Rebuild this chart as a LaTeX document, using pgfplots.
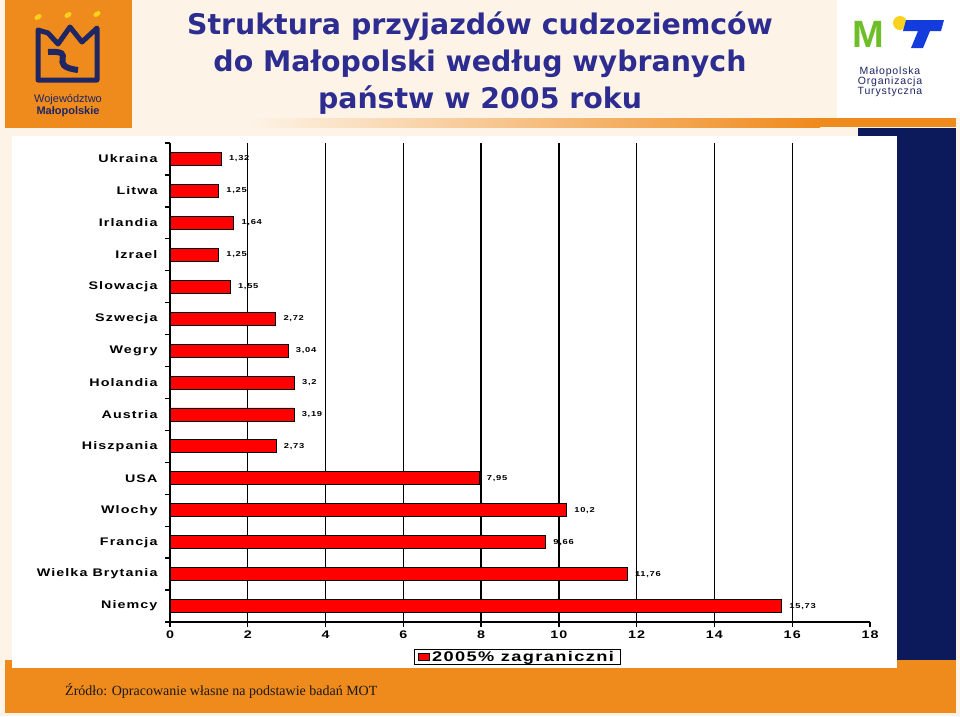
\documentclass[border=0pt]{standalone}
\usepackage{pgfplots}
\pgfplotsset{compat=1.18}
\usepackage{pgfplotstable}
\usepackage{fontspec}
\setmainfont{Liberation Sans}
\newfontfamily\spacedfont[LetterSpace=10, FakeStretch=1.3]{Liberation Sans}
\newfontfamily\motfont[LetterSpace=8]{Liberation Sans}
\newfontfamily\titlefont{DejaVu Sans}
\newfontfamily\srcfont{Liberation Serif}
\definecolor{cream}{RGB}{253,243,230}
\definecolor{morange}{RGB}{239,138,28}
\definecolor{navy}{RGB}{12,26,92}
\definecolor{titleblue}{RGB}{45,45,145}
\definecolor{logonavy}{RGB}{30,38,100}
\definecolor{motgreen}{RGB}{110,190,40}
\definecolor{motyellow}{RGB}{250,210,30}
\definecolor{motblue}{RGB}{20,60,220}

\pgfplotstableread{
idx val lab
15 1.32 1,32
14 1.25 1,25
13 1.64 1,64
12 1.25 1,25
11 1.55 1,55
10 2.72 2,72
9 3.04 3,04
8 3.2 3,2
7 3.19 3,19
6 2.73 2,73
5 7.95 7,95
4 10.2 10,2
3 9.66 9,66
2 11.76 11,76
1 15.73 15,73
}\datatable

\begin{document}
\begin{tikzpicture}
\useasboundingbox (0pt,0pt) rectangle (960pt,-716pt);
\begin{scope}[x=1pt,y=-1pt]
\fill[cream] (0,0) rectangle (960,716);
% left logo
\fill[morange] (5,0) rectangle (132,128);
\draw[logonavy, line width=5pt, line join=round] (38,30) -- (48,33) -- (58,44) -- (70,27) -- (82,42) -- (97,28) -- (97,80) -- (38,80) -- cycle;
\draw[logonavy, line width=6pt] (48,52) .. controls (80,50) and (45,66) .. (78,70);
\foreach \p in {(38,17),(68,15),(97,14)} \fill[motyellow, rotate around={30:\p}] \p ellipse (4 and 2.5);
\node[logonavy, inner sep=0, font=\fontsize{11}{12}\selectfont] at (68,100) {Województwo};
\node[logonavy, inner sep=0, font=\bfseries\fontsize{11}{12}\selectfont] at (68,112) {Małopolskie};
% MOT logo
\fill[white] (837,0) rectangle (960,118);
\node[motgreen, inner sep=0, anchor=base west, font=\bfseries\fontsize{38}{40}\selectfont] at (852,47) {M};
\fill[motyellow] (900,23) circle (7);
\fill[motblue] (906,20) -- (944,20) -- (941,31) -- (930,31) -- (923,48) -- (911,48) -- (918,31) -- (903,31) -- cycle;
\node[logonavy, inner sep=0, font=\motfont\fontsize{10.5}{12}\selectfont] at (890,72) {Małopolska};
\node[logonavy, inner sep=0, font=\motfont\fontsize{10.5}{12}\selectfont] at (890,82) {Organizacja};
\node[logonavy, inner sep=0, font=\motfont\fontsize{10.5}{12}\selectfont] at (890,92) {Turystyczna};
% stripe
\shade[left color=cream, right color=morange] (250,118) rectangle (820,127);
\fill[morange] (819,118) rectangle (956,127);
% navy block
\fill[navy] (858,128) rectangle (956,660);
% orange band
\fill[morange] (5,660) rectangle (956,713);
% white panel
\fill[white] (12,136) rectangle (897,668);
% title
\foreach \yy/\txt in {34/Struktura przyjazdów cudzoziemców, 71/do Małopolski według wybranych, 108/państw w 2005 roku}{
  \node[titleblue, inner sep=0, anchor=base, font=\titlefont\bfseries\fontsize{28.4}{34}\selectfont] at (480,\yy) {\txt};
}
% source
\node[black!90, inner sep=0, anchor=base west, font=\srcfont\fontsize{14}{16}\selectfont] at (65,695) {Źródło: Opracowanie własne na podstawie badań MOT};
\end{scope}

\begin{axis}[
  at={(170pt,-622pt)}, anchor=south west,
  width=700pt, height=479pt, scale only axis,
  xmin=0, xmax=18, ymin=0.5, ymax=15.5,
  axis lines*=left,
  axis line style={line width=1.3pt, black},
  xbar, bar width=13pt,
  xtick={0,2,...,16}, extra x ticks={18}, extra x tick style={grid=none},
  xmajorgrids, grid style={line width=1.3pt, black},
  ytick={0.5,1.5,...,15.5}, yticklabels={},
  extra y ticks={1,...,15},
  extra y tick labels={Niemcy,Wielka Brytania,Francja,Wlochy,USA,Hiszpania,Austria,Holandia,Wegry,Szwecja,Slowacja,Izrael,Irlandia,Litwa,Ukraina},
  extra y tick style={major tick length=0pt, grid=none, yticklabel style={xshift=-9pt}},
  tick align=outside, major tick length=5pt,
  tick style={line width=1.3pt, black},
  ticklabel style={font=\spacedfont\bfseries\fontsize{11}{13}\selectfont},
  /pgf/number format/assume math mode=true,
  nodes near coords, point meta=explicit symbolic,
  nodes near coords style={font=\spacedfont\bfseries\fontsize{7.2}{9}\selectfont, anchor=west, xshift=4pt},
  legend style={at={(0.496,-0.073)}, anchor=center, draw=black, line width=1pt, inner xsep=4pt, inner ysep=0pt, font=\spacedfont\bfseries\fontsize{14}{15}\selectfont},
  legend image code/.code={\draw[fill=red,draw=black,line width=0.8pt] (0pt,-3.5pt) rectangle (11pt,3.5pt);},
]
\addplot[fill=red, draw=black, line width=0.8pt] table[x=val,y=idx,meta=lab]{\datatable};
\legend{2005\% zagraniczni}
\end{axis}
\end{tikzpicture}
\end{document}
